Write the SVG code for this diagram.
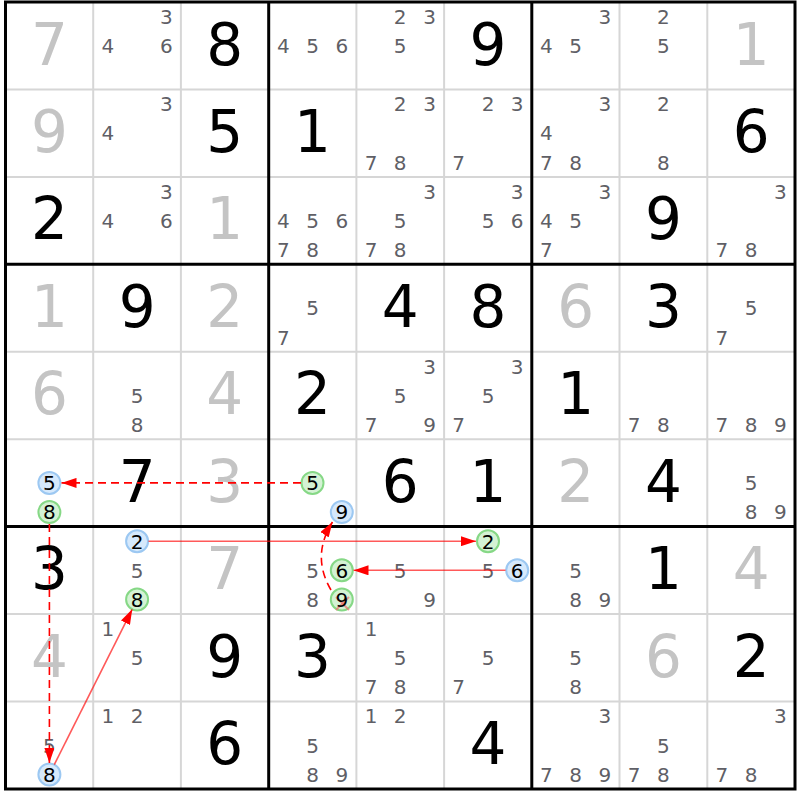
<svg xmlns="http://www.w3.org/2000/svg" width="800" height="800" viewBox="0 0 800 800">
<style>
text{font-family:"DejaVu Sans","Liberation Sans",sans-serif;text-anchor:middle}
.b{font-size:58px;fill:#000}
.g{font-size:58px;fill:#c4c4c4}
.c{font-size:20px;fill:#5f5f66}
.h{font-size:20px;fill:#000}
.thin{stroke:#d6d6d6;stroke-width:2}
.thick{stroke:#000;stroke-width:3}
.cb{fill:#d6e9fc;stroke:#9cc8f2;stroke-width:2}
.cg{fill:#d4f2d4;stroke:#86d886;stroke-width:2}
.dash{stroke:#ff0000;stroke-width:1.6;stroke-dasharray:8 5;fill:none}
.sol{stroke:#ff0000;stroke-opacity:0.65;stroke-width:1.6;fill:none}
.x{stroke:#f07070;stroke-opacity:0.7;stroke-width:2}
</style>
<defs>
<marker id="ah" markerUnits="userSpaceOnUse" markerWidth="15" markerHeight="10" refX="15" refY="5" orient="auto">
<path d="M0,0 L15,5 L0,10 z" fill="#ff0000"/>
</marker>
</defs>
<rect x="0" y="0" width="800" height="800" fill="#fff"/>
<g id="grid">
<line class="thin" x1="93.2" y1="2" x2="93.2" y2="789"/>
<line class="thin" x1="180.9" y1="2" x2="180.9" y2="789"/>
<line class="thin" x1="356.4" y1="2" x2="356.4" y2="789"/>
<line class="thin" x1="444.1" y1="2" x2="444.1" y2="789"/>
<line class="thin" x1="619.5" y1="2" x2="619.5" y2="789"/>
<line class="thin" x1="707.3" y1="2" x2="707.3" y2="789"/>
<line class="thin" x1="5.5" y1="89.4" x2="795" y2="89.4"/>
<line class="thin" x1="5.5" y1="176.9" x2="795" y2="176.9"/>
<line class="thin" x1="5.5" y1="351.8" x2="795" y2="351.8"/>
<line class="thin" x1="5.5" y1="439.2" x2="795" y2="439.2"/>
<line class="thin" x1="5.5" y1="614.1" x2="795" y2="614.1"/>
<line class="thin" x1="5.5" y1="701.5" x2="795" y2="701.5"/>
<line class="thick" x1="268.7" y1="2" x2="268.7" y2="789"/>
<line class="thick" x1="531.8" y1="2" x2="531.8" y2="789"/>
<line class="thick" x1="5.5" y1="264.3" x2="795" y2="264.3"/>
<line class="thick" x1="5.5" y1="526.6" x2="795" y2="526.6"/>
<rect class="thick" x="5.5" y="2" width="789.5" height="787" fill="none"/>
</g>
<g id="r1">
<g id="r1c1"><text class="g" x="49.4" y="64.5">7</text></g>
<g id="r1c2"><text class="c" x="166.3" y="23.9">3</text><text class="c" x="107.8" y="53">4</text><text class="c" x="166.3" y="53">6</text></g>
<g id="r1c3"><text class="b" x="224.8" y="64.5">8</text></g>
<g id="r1c4"><text class="c" x="283.3" y="53">4</text><text class="c" x="312.5" y="53">5</text><text class="c" x="341.8" y="53">6</text></g>
<g id="r1c5"><text class="c" x="400.2" y="23.9">2</text><text class="c" x="429.5" y="23.9">3</text><text class="c" x="400.2" y="53">5</text></g>
<g id="r1c6"><text class="b" x="488" y="64.5">9</text></g>
<g id="r1c7"><text class="c" x="604.9" y="23.9">3</text><text class="c" x="546.4" y="53">4</text><text class="c" x="575.7" y="53">5</text></g>
<g id="r1c8"><text class="c" x="663.4" y="23.9">2</text><text class="c" x="663.4" y="53">5</text></g>
<g id="r1c9"><text class="g" x="751.1" y="64.5">1</text></g>
</g>
<g id="r2">
<g id="r2c1"><text class="g" x="49.4" y="151.9">9</text></g>
<g id="r2c2"><text class="c" x="166.3" y="111.3">3</text><text class="c" x="107.8" y="140.4">4</text></g>
<g id="r2c3"><text class="b" x="224.8" y="151.9">5</text></g>
<g id="r2c4"><text class="b" x="312.5" y="151.9">1</text></g>
<g id="r2c5"><text class="c" x="400.2" y="111.3">2</text><text class="c" x="429.5" y="111.3">3</text><text class="c" x="371" y="169.6">7</text><text class="c" x="400.2" y="169.6">8</text></g>
<g id="r2c6"><text class="c" x="488" y="111.3">2</text><text class="c" x="517.2" y="111.3">3</text><text class="c" x="458.7" y="169.6">7</text></g>
<g id="r2c7"><text class="c" x="604.9" y="111.3">3</text><text class="c" x="546.4" y="140.4">4</text><text class="c" x="546.4" y="169.6">7</text><text class="c" x="575.7" y="169.6">8</text></g>
<g id="r2c8"><text class="c" x="663.4" y="111.3">2</text><text class="c" x="663.4" y="169.6">8</text></g>
<g id="r2c9"><text class="b" x="751.1" y="151.9">6</text></g>
</g>
<g id="r3">
<g id="r3c1"><text class="b" x="49.4" y="239.4">2</text></g>
<g id="r3c2"><text class="c" x="166.3" y="198.8">3</text><text class="c" x="107.8" y="227.9">4</text><text class="c" x="166.3" y="227.9">6</text></g>
<g id="r3c3"><text class="g" x="224.8" y="239.4">1</text></g>
<g id="r3c4"><text class="c" x="283.3" y="227.9">4</text><text class="c" x="312.5" y="227.9">5</text><text class="c" x="341.8" y="227.9">6</text><text class="c" x="283.3" y="257.1">7</text><text class="c" x="312.5" y="257.1">8</text></g>
<g id="r3c5"><text class="c" x="429.5" y="198.8">3</text><text class="c" x="400.2" y="227.9">5</text><text class="c" x="371" y="257.1">7</text><text class="c" x="400.2" y="257.1">8</text></g>
<g id="r3c6"><text class="c" x="517.2" y="198.8">3</text><text class="c" x="488" y="227.9">5</text><text class="c" x="517.2" y="227.9">6</text></g>
<g id="r3c7"><text class="c" x="604.9" y="198.8">3</text><text class="c" x="546.4" y="227.9">4</text><text class="c" x="575.7" y="227.9">5</text><text class="c" x="546.4" y="257.1">7</text></g>
<g id="r3c8"><text class="b" x="663.4" y="239.4">9</text></g>
<g id="r3c9"><text class="c" x="780.4" y="198.8">3</text><text class="c" x="721.9" y="257.1">7</text><text class="c" x="751.1" y="257.1">8</text></g>
</g>
<g id="r4">
<g id="r4c1"><text class="g" x="49.4" y="326.8">1</text></g>
<g id="r4c2"><text class="b" x="137.1" y="326.8">9</text></g>
<g id="r4c3"><text class="g" x="224.8" y="326.8">2</text></g>
<g id="r4c4"><text class="c" x="312.5" y="315.3">5</text><text class="c" x="283.3" y="344.5">7</text></g>
<g id="r4c5"><text class="b" x="400.2" y="326.8">4</text></g>
<g id="r4c6"><text class="b" x="488" y="326.8">8</text></g>
<g id="r4c7"><text class="g" x="575.7" y="326.8">6</text></g>
<g id="r4c8"><text class="b" x="663.4" y="326.8">3</text></g>
<g id="r4c9"><text class="c" x="751.1" y="315.3">5</text><text class="c" x="721.9" y="344.5">7</text></g>
</g>
<g id="r5">
<g id="r5c1"><text class="g" x="49.4" y="414.3">6</text></g>
<g id="r5c2"><text class="c" x="137.1" y="402.8">5</text><text class="c" x="137.1" y="432">8</text></g>
<g id="r5c3"><text class="g" x="224.8" y="414.3">4</text></g>
<g id="r5c4"><text class="b" x="312.5" y="414.3">2</text></g>
<g id="r5c5"><text class="c" x="429.5" y="373.7">3</text><text class="c" x="400.2" y="402.8">5</text><text class="c" x="371" y="432">7</text><text class="c" x="429.5" y="432">9</text></g>
<g id="r5c6"><text class="c" x="517.2" y="373.7">3</text><text class="c" x="488" y="402.8">5</text><text class="c" x="458.7" y="432">7</text></g>
<g id="r5c7"><text class="b" x="575.7" y="414.3">1</text></g>
<g id="r5c8"><text class="c" x="634.2" y="432">7</text><text class="c" x="663.4" y="432">8</text></g>
<g id="r5c9"><text class="c" x="721.9" y="432">7</text><text class="c" x="751.1" y="432">8</text><text class="c" x="780.4" y="432">9</text></g>
</g>
<g id="r6">
<g id="r6c1"><circle class="cb" cx="49.4" cy="482.9" r="11"/><text class="h" x="49.4" y="490.2">5</text><circle class="cg" cx="49.4" cy="512.1" r="11"/><text class="h" x="49.4" y="519.4">8</text></g>
<g id="r6c2"><text class="b" x="137.1" y="501.7">7</text></g>
<g id="r6c3"><text class="g" x="224.8" y="501.7">3</text></g>
<g id="r6c4"><circle class="cg" cx="312.5" cy="482.9" r="11"/><text class="h" x="312.5" y="490.2">5</text><circle class="cb" cx="341.8" cy="512.1" r="11"/><text class="h" x="341.8" y="519.4">9</text></g>
<g id="r6c5"><text class="b" x="400.2" y="501.7">6</text></g>
<g id="r6c6"><text class="b" x="488" y="501.7">1</text></g>
<g id="r6c7"><text class="g" x="575.7" y="501.7">2</text></g>
<g id="r6c8"><text class="b" x="663.4" y="501.7">4</text></g>
<g id="r6c9"><text class="c" x="751.1" y="490.2">5</text><text class="c" x="751.1" y="519.4">8</text><text class="c" x="780.4" y="519.4">9</text></g>
</g>
<g id="r7">
<g id="r7c1"><text class="b" x="49.4" y="589.1">3</text></g>
<g id="r7c2"><circle class="cb" cx="137.1" cy="541.2" r="11"/><text class="h" x="137.1" y="548.5">2</text><text class="c" x="137.1" y="577.6">5</text><circle class="cg" cx="137.1" cy="599.5" r="11"/><text class="h" x="137.1" y="606.8">8</text></g>
<g id="r7c3"><text class="g" x="224.8" y="589.1">7</text></g>
<g id="r7c4"><text class="c" x="312.5" y="577.6">5</text><circle class="cg" cx="341.8" cy="570.3" r="11"/><text class="h" x="341.8" y="577.6">6</text><text class="c" x="312.5" y="606.8">8</text><circle class="cg" cx="341.8" cy="599.5" r="11"/><line class="x" x1="336" y1="610" x2="349" y2="597"/><line class="x" x1="336" y1="597" x2="349" y2="610"/><text class="h" x="341.8" y="606.8">9</text></g>
<g id="r7c5"><text class="c" x="400.2" y="577.6">5</text><text class="c" x="429.5" y="606.8">9</text></g>
<g id="r7c6"><circle class="cg" cx="488" cy="541.2" r="11"/><text class="h" x="488" y="548.5">2</text><text class="c" x="488" y="577.6">5</text><circle class="cb" cx="517.2" cy="570.3" r="11"/><text class="h" x="517.2" y="577.6">6</text></g>
<g id="r7c7"><text class="c" x="575.7" y="577.6">5</text><text class="c" x="575.7" y="606.8">8</text><text class="c" x="604.9" y="606.8">9</text></g>
<g id="r7c8"><text class="b" x="663.4" y="589.1">1</text></g>
<g id="r7c9"><text class="g" x="751.1" y="589.1">4</text></g>
</g>
<g id="r8">
<g id="r8c1"><text class="g" x="49.4" y="676.6">4</text></g>
<g id="r8c2"><text class="c" x="107.8" y="636">1</text><text class="c" x="137.1" y="665.1">5</text></g>
<g id="r8c3"><text class="b" x="224.8" y="676.6">9</text></g>
<g id="r8c4"><text class="b" x="312.5" y="676.6">3</text></g>
<g id="r8c5"><text class="c" x="371" y="636">1</text><text class="c" x="400.2" y="665.1">5</text><text class="c" x="371" y="694.3">7</text><text class="c" x="400.2" y="694.3">8</text></g>
<g id="r8c6"><text class="c" x="488" y="665.1">5</text><text class="c" x="458.7" y="694.3">7</text></g>
<g id="r8c7"><text class="c" x="575.7" y="665.1">5</text><text class="c" x="575.7" y="694.3">8</text></g>
<g id="r8c8"><text class="g" x="663.4" y="676.6">6</text></g>
<g id="r8c9"><text class="b" x="751.1" y="676.6">2</text></g>
</g>
<g id="r9">
<g id="r9c1"><text class="c" x="49.4" y="752.5">5</text><circle class="cb" cx="49.4" cy="774.4" r="11"/><text class="h" x="49.4" y="781.7">8</text></g>
<g id="r9c2"><text class="c" x="107.8" y="723.4">1</text><text class="c" x="137.1" y="723.4">2</text></g>
<g id="r9c3"><text class="b" x="224.8" y="764">6</text></g>
<g id="r9c4"><text class="c" x="312.5" y="752.5">5</text><text class="c" x="312.5" y="781.7">8</text><text class="c" x="341.8" y="781.7">9</text></g>
<g id="r9c5"><text class="c" x="371" y="723.4">1</text><text class="c" x="400.2" y="723.4">2</text></g>
<g id="r9c6"><text class="b" x="488" y="764">4</text></g>
<g id="r9c7"><text class="c" x="604.9" y="723.4">3</text><text class="c" x="546.4" y="781.7">7</text><text class="c" x="575.7" y="781.7">8</text><text class="c" x="604.9" y="781.7">9</text></g>
<g id="r9c8"><text class="c" x="663.4" y="752.5">5</text><text class="c" x="634.2" y="781.7">7</text><text class="c" x="663.4" y="781.7">8</text></g>
<g id="r9c9"><text class="c" x="780.4" y="723.4">3</text><text class="c" x="721.9" y="781.7">7</text><text class="c" x="751.1" y="781.7">8</text></g>
</g>
<g id="connectors">
<line class="dash" x1="301" y1="482.9" x2="61.5" y2="482.9" marker-end="url(#ah)"/>
<line class="dash" x1="49.4" y1="524" x2="49.4" y2="763" marker-end="url(#ah)"/>
<line class="sol" x1="54.3" y1="764.6" x2="132.2" y2="609.3" marker-end="url(#ah)"/>
<line class="sol" x1="148.5" y1="541.2" x2="476" y2="541.2" marker-end="url(#ah)"/>
<line class="sol" x1="505.5" y1="570.3" x2="353.5" y2="570.3" marker-end="url(#ah)"/>
<path class="dash" d="M331,590 Q311,556 332.5,522" marker-end="url(#ah)"/>
</g>
</svg>
